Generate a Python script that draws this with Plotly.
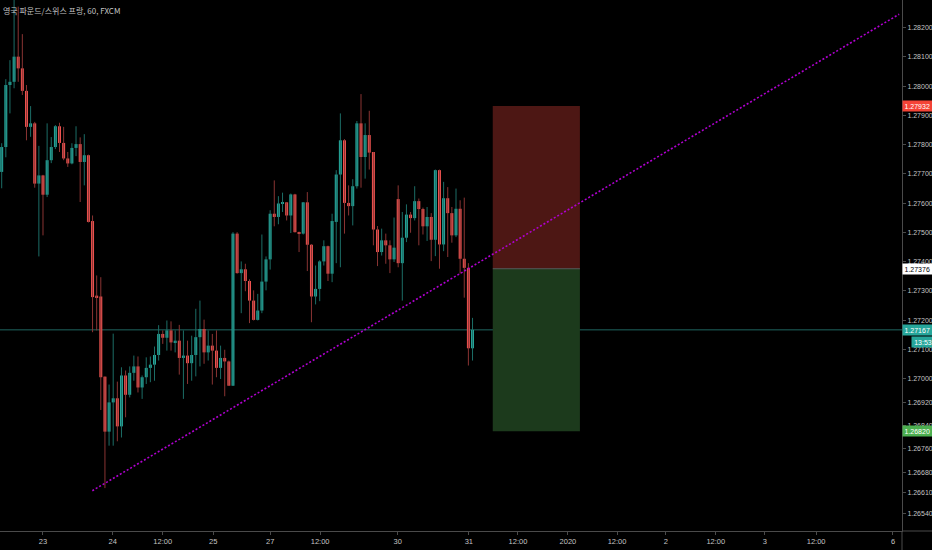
import plotly.graph_objects as go

title_text = "영국 파운드/스위스 프랑, 60, FXCM"

opens = [1.27707, 1.27792, 1.28004, 1.28015, 1.28101, 1.28061, 1.27984, 1.27861, 1.27873, 1.27667,
         1.27695, 1.27629, 1.27747, 1.27792, 1.27863, 1.27806, 1.27753, 1.27736, 1.27789, 1.27802,
         1.27741, 1.27764, 1.27539, 1.27284, 1.27281, 1.27007, 1.26819, 1.26919, 1.26933, 1.26837,
         1.27011, 1.26945, 1.27020, 1.27042, 1.26970, 1.27005, 1.27037, 1.27048, 1.27081, 1.27153,
         1.27140, 1.27165, 1.27124, 1.27130, 1.27071, 1.27079, 1.27053, 1.27081, 1.27142, 1.27170,
         1.27090, 1.27113, 1.27096, 1.27037, 1.27071, 1.27059, 1.26976, 1.27496, 1.27361, 1.27374,
         1.27334, 1.27267, 1.27201, 1.27233, 1.27332, 1.27408, 1.27564, 1.27553, 1.27599, 1.27603,
         1.27558, 1.27630, 1.27501, 1.27496, 1.27603, 1.27458, 1.27281, 1.27307, 1.27401, 1.27453,
         1.27359, 1.27536, 1.27698, 1.27815, 1.27601, 1.27590, 1.27658, 1.27873, 1.27758, 1.27833,
         1.27775, 1.27510, 1.27433, 1.27473, 1.27456, 1.27408, 1.27614, 1.27395, 1.27482, 1.27561,
         1.27549, 1.27607, 1.27580, 1.27521, 1.27553, 1.27475, 1.27713, 1.27459, 1.27617, 1.27566,
         1.27490, 1.27581, 1.27410, 1.27379, 1.27104]
highs = [1.27805, 1.28024, 1.28089, 1.28300, 1.28272, 1.28178, 1.28004, 1.27932, 1.27878, 1.27796,
         1.27697, 1.27873, 1.27826, 1.27867, 1.27875, 1.27861, 1.27775, 1.27805, 1.27863, 1.27825,
         1.27836, 1.27766, 1.27558, 1.27353, 1.27347, 1.27007, 1.26980, 1.27154, 1.26990, 1.27039,
         1.27028, 1.27042, 1.27079, 1.27076, 1.27011, 1.27073, 1.27076, 1.27110, 1.27183, 1.27165,
         1.27199, 1.27196, 1.27165, 1.27184, 1.27165, 1.27130, 1.27147, 1.27239, 1.27267, 1.27202,
         1.27165, 1.27153, 1.27165, 1.27113, 1.27099, 1.27062, 1.27501, 1.27501, 1.27401, 1.27393,
         1.27340, 1.27302, 1.27290, 1.27493, 1.27418, 1.27576, 1.27678, 1.27624, 1.27636, 1.27603,
         1.27633, 1.27632, 1.27503, 1.27604, 1.27638, 1.27460, 1.27387, 1.27405, 1.27473, 1.27455,
         1.27564, 1.27713, 1.27907, 1.27819, 1.27661, 1.27682, 1.27881, 1.27973, 1.27873, 1.27916,
         1.27775, 1.27522, 1.27513, 1.27496, 1.27473, 1.27551, 1.27661, 1.27570, 1.27596, 1.27570,
         1.27658, 1.27616, 1.27585, 1.27587, 1.27566, 1.27715, 1.27715, 1.27673, 1.27655, 1.27587,
         1.27650, 1.27610, 1.27619, 1.27395, 1.27208]
lows = [1.27651, 1.27757, 1.27907, 1.27993, 1.28015, 1.27970, 1.27815, 1.27827, 1.27653, 1.27418,
        1.27490, 1.27621, 1.27737, 1.27785, 1.27775, 1.27747, 1.27724, 1.27733, 1.27761, 1.27604,
        1.27661, 1.27534, 1.27159, 1.27165, 1.26893, 1.26626, 1.26771, 1.26771, 1.26786, 1.26799,
        1.26868, 1.26936, 1.26993, 1.26953, 1.26931, 1.26982, 1.26988, 1.26993, 1.27062, 1.27119,
        1.27096, 1.27096, 1.27090, 1.27014, 1.26931, 1.26982, 1.26993, 1.27008, 1.27042, 1.27051,
        1.27062, 1.26980, 1.27005, 1.26999, 1.26940, 1.26975, 1.26975, 1.27359, 1.27224, 1.27299,
        1.27190, 1.27199, 1.27199, 1.27224, 1.27302, 1.27373, 1.27521, 1.27528, 1.27570, 1.27541,
        1.27498, 1.27500, 1.27433, 1.27493, 1.27368, 1.27193, 1.27254, 1.27265, 1.27387, 1.27334,
        1.27330, 1.27395, 1.27381, 1.27496, 1.27558, 1.27524, 1.27650, 1.27653, 1.27684, 1.27715,
        1.27456, 1.27385, 1.27421, 1.27393, 1.27361, 1.27399, 1.27381, 1.27267, 1.27467, 1.27499,
        1.27541, 1.27456, 1.27493, 1.27471, 1.27402, 1.27419, 1.27376, 1.27436, 1.27416, 1.27465,
        1.27484, 1.27359, 1.27277, 1.27045, 1.27062]
closes = [1.27792, 1.28004, 1.28015, 1.28101, 1.28061, 1.27984, 1.27861, 1.27873, 1.27667, 1.27695,
          1.27629, 1.27747, 1.27792, 1.27863, 1.27806, 1.27753, 1.27736, 1.27789, 1.27802, 1.27741,
          1.27764, 1.27536, 1.27279, 1.27279, 1.27005, 1.26819, 1.26919, 1.26933, 1.26837, 1.27011,
          1.26945, 1.27020, 1.27042, 1.26970, 1.27005, 1.27037, 1.27048, 1.27081, 1.27153, 1.27140,
          1.27165, 1.27124, 1.27130, 1.27071, 1.27079, 1.27053, 1.27081, 1.27142, 1.27170, 1.27090,
          1.27113, 1.27096, 1.27037, 1.27071, 1.27059, 1.26976, 1.27496, 1.27361, 1.27374, 1.27334,
          1.27267, 1.27201, 1.27233, 1.27332, 1.27408, 1.27564, 1.27553, 1.27599, 1.27603, 1.27558,
          1.27630, 1.27501, 1.27496, 1.27603, 1.27458, 1.27281, 1.27307, 1.27401, 1.27453, 1.27359,
          1.27539, 1.27698, 1.27815, 1.27601, 1.27590, 1.27658, 1.27873, 1.27758, 1.27833, 1.27773,
          1.27510, 1.27433, 1.27473, 1.27456, 1.27408, 1.27448, 1.27395, 1.27482, 1.27561, 1.27549,
          1.27607, 1.27580, 1.27521, 1.27553, 1.27475, 1.27713, 1.27459, 1.27617, 1.27566, 1.27490,
          1.27581, 1.27410, 1.27379, 1.27104, 1.27167]

bar_index = list(range(len(opens)))

x_tick_pos = [10.0, 26.9, 39.0, 51.2, 65.0, 77.1, 95.9, 113.1, 125.0, 137.1, 149.0, 160.8, 172.9, 184.8, 197.2, 215.8]
x_tick_labels = ["23", "24", "12:00", "25", "27", "12:00", "30", "31", "12:00", "2020", "12:00", "2", "12:00", "3", "12:00", "6"]
y_tick_vals = [1.282, 1.281, 1.280, 1.279, 1.278, 1.277, 1.276, 1.275, 1.274, 1.273, 1.272, 1.271, 1.270,
               1.2692, 1.2684, 1.2676, 1.2668, 1.2661, 1.2654]

trend_x = [21.94, 217.3]
trend_y = [1.26617, 1.28246]

last_price = 1.27167
entry_price = 1.27376
stop_price = 1.27932
target_price = 1.26820
position_x = [118.9, 140.0]
countdown = "13:53"

UP = "#26a69a"
DOWN = "#ef5350"
UP_WICK = "#1c6d66"
DOWN_WICK = "#8a3433"
TXT = "#c4c4c4"
AX = "#4a4a4a"
FONT = "Liberation Sans Narrow, Liberation Sans, Arial, sans-serif"

fig = go.Figure()

for is_up, wcol, bcol in [(True, UP_WICK, UP), (False, DOWN_WICK, DOWN)]:
    wx, wy = [], []
    bx, bbase, bh = [], [], []
    for i, o, h, l, c in zip(bar_index, opens, highs, lows, closes):
        if (c >= o) != is_up:
            continue
        wx += [i, i, None]
        wy += [l, h, None]
        bx.append(i)
        bbase.append(min(o, c))
        bh.append(max(abs(c - o), 0.00003))
    fig.add_trace(go.Scatter(x=wx, y=wy, mode="lines", line=dict(color=wcol, width=1),
                             hoverinfo="skip", showlegend=False))
    fig.add_trace(go.Bar(x=bx, y=bh, base=bbase, width=0.72, marker=dict(color=bcol, line=dict(width=0)),
                         hoverinfo="skip", showlegend=False))

fig.add_trace(go.Scatter(x=trend_x, y=trend_y, mode="lines",
                         line=dict(color="#b000d0", width=1.6, dash="2px,2px"),
                         hoverinfo="skip", showlegend=False))

shapes = [
    dict(type="rect", xref="x", yref="y", x0=position_x[0], x1=position_x[1], y0=entry_price, y1=stop_price,
         fillcolor="#4d1714", line=dict(width=0), layer="below"),
    dict(type="rect", xref="x", yref="y", x0=position_x[0], x1=position_x[1], y0=target_price, y1=entry_price,
         fillcolor="#1c3a1c", line=dict(width=0), layer="below"),
    dict(type="line", xref="x", yref="y", x0=position_x[0], x1=position_x[1], y0=entry_price, y1=entry_price,
         line=dict(color="#5a5a5a", width=1), layer="below"),
    dict(type="line", xref="paper", yref="y", x0=0, x1=1, y0=last_price, y1=last_price,
         line=dict(color="#1f6560", width=1), layer="below"),
    dict(type="line", xref="paper", yref="paper", x0=1, x1=1.04, y0=0, y1=0,
         line=dict(color=AX, width=1)),
    dict(type="line", xref="paper", yref="paper", x0=1, x1=1, y0=0, y1=-0.04,
         line=dict(color=AX, width=1)),
]

def tag(price, text, bg, fg):
    return dict(x=1, xref="paper", y=price, yref="y", xanchor="left", yanchor="middle",
                text=text, showarrow=False, bgcolor=bg, borderpad=1.5, width=28, align="left",
                font=dict(family=FONT, size=7, color=fg))

annotations = [
    tag(stop_price, f"{stop_price:.5f}", "#f44336", "#ffffff"),
    tag(entry_price, f"{entry_price:.5f}", "#ffffff", "#000000"),
    tag(last_price, f"{last_price:.5f}", UP, "#ffffff"),
    tag(target_price, f"{target_price:.5f}", "#4caf50", "#ffffff"),
    dict(x=1, xref="paper", y=last_price, yref="y", xanchor="left", yanchor="middle", xshift=9, yshift=-12,
         text=countdown, showarrow=False, bgcolor=UP, borderpad=1.5, width=19,
         font=dict(family=FONT, size=7, color="#ffffff")),
    dict(x=0, xref="paper", y=1, yref="paper", xanchor="left", yanchor="top", xshift=1, yshift=-3,
         text=title_text, showarrow=False,
         font=dict(family="Noto Sans CJK KR, Noto Sans", size=8, color=TXT)),
]

fig.update_layout(
    width=932, height=550,
    paper_bgcolor="#000000", plot_bgcolor="#000000",
    margin=dict(l=0, r=30, t=0, b=19),
    showlegend=False, barmode="overlay",
    shapes=shapes, annotations=annotations,
    xaxis=dict(range=[-0.41, 217.99], tickmode="array", tickvals=x_tick_pos, ticktext=x_tick_labels,
               showgrid=False, zeroline=False, showline=True, linecolor=AX, linewidth=1,
               ticks="outside", ticklen=3, tickcolor=AX, automargin=False,
               tickfont=dict(family=FONT, size=7.5, color=TXT), fixedrange=True),
    yaxis=dict(side="right", range=[1.264793, 1.282947], tickmode="array", tickvals=y_tick_vals,
               ticktext=[f"{v:.5f}" for v in y_tick_vals],
               showgrid=False, zeroline=False, showline=True, linecolor=AX, linewidth=1,
               ticks="outside", ticklen=3, tickcolor=AX, automargin=False,
               tickfont=dict(family=FONT, size=7, color=TXT), fixedrange=True),
)

fig.write_html("out.html", config={"displayModeBar": False},
               post_script="document.body.style.margin='0px';document.body.style.background='#000';document.body.style.overflow='hidden';")
